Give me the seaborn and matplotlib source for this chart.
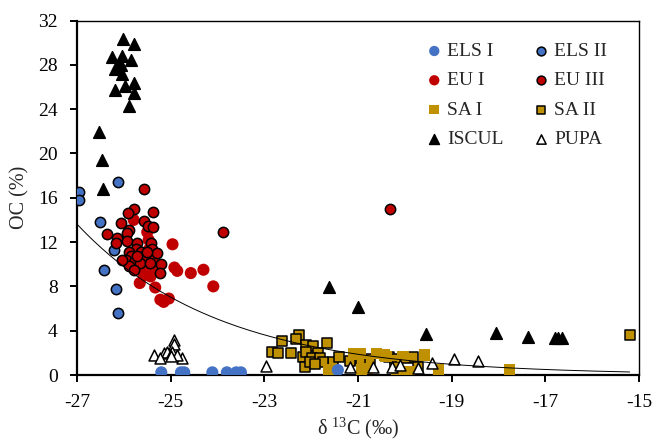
import numpy as np
import pandas as pd
import matplotlib
matplotlib.use("Agg")
import matplotlib.pyplot as plt
import seaborn as sns

# ---------------- data ----------------
els1_x = [-25.2, -24.78, -24.71, -24.11, -23.8, -23.6, -23.5, -21.43]
els1_y = [0.24, 0.24, 0.24, 0.24, 0.24, 0.24, 0.24, 0.45]

els2_x = [-26.95, -26.95, -26.12, -26.5, -26.21, -26.43, -26.16, -26.13]
els2_y = [16.5, 15.8, 17.4, 13.8, 11.3, 9.5, 7.8, 5.6]

eu1_x = [-24.96, -24.92, -24.86, -24.57, -24.3, -24.09, -25.66, -25.57, -25.43, -25.33,
         -25.22, -25.04, -25.15, -25.79, -25.5, -25.47, -25.36, -25.45, -25.64, -25.47,
         -25.3, -25.55]
eu1_y = [11.8, 9.7, 9.4, 9.2, 9.5, 8.0, 8.3, 9.0, 8.9, 7.9,
         6.8, 6.9, 6.6, 14.0, 12.9, 11.3, 10.4, 9.5, 9.8, 12.2,
         9.6, 10.3]

eu3_x = [-25.56, -25.79, -25.91, -25.38, -26.05, -25.56, -25.48, -25.37, -26.35, -26.14,
         -25.89, -25.93, -25.94, -26.16, -25.71, -25.41, -25.73, -25.4, -25.89, -25.64,
         -25.29, -25.84, -25.96, -25.57, -25.79, -25.89, -25.66, -25.45, -25.2, -25.22,
         -25.71, -25.5, -26.03, -25.79, -23.88, -20.31]
eu3_y = [16.8, 14.95, 14.6, 14.7, 13.7, 13.9, 13.45, 13.4, 12.7, 12.4,
         13.1, 12.8, 12.1, 11.9, 11.9, 11.95, 11.4, 11.4, 11.1, 11.1,
         11.0, 10.7, 10.4, 10.7, 10.2, 9.8, 10.1, 10.1, 10.0, 9.2,
         10.7, 11.1, 10.4, 9.5, 12.9, 14.95]

sa1_x = [-21.62, -20.96, -20.93, -20.61, -20.43, -20.08, -19.9, -19.58, -19.28, -20.18,
         -17.77, -20.04, -20.4, -21.1, -20.8]
sa1_y = [0.45, 1.96, 0.45, 1.96, 1.8, 0.3, 0.3, 1.8, 0.45, 0.2,
         0.5, 1.65, 1.65, 1.9, 0.6]

sa2_x = [-22.62, -22.26, -22.33, -22.84, -22.71, -22.1, -21.96, -21.67, -22.42, -22.17,
         -22.1, -21.85, -21.99, -22.13, -21.81, -21.53, -21.4, -21.18, -20.93, -20.75,
         -20.33, -20.22, -19.93, -19.83, -19.72, -20.22, -21.74, -22.03, -21.92, -15.2]
sa2_y = [3.1, 3.6, 3.25, 2.1, 2.0, 2.7, 2.6, 2.9, 1.95, 1.65,
         2.1, 1.96, 1.5, 0.75, 1.5, 1.2, 1.6, 1.3, 1.35, 1.4,
         1.65, 1.4, 1.5, 1.6, 0.7, 0.75, 1.2, 1.2, 0.96, 3.6]

iscul_x = [-26.01, -25.79, -26.26, -26.03, -25.84, -26.14, -26.18, -26.03, -26.07, -25.79,
           -25.98, -26.19, -25.79, -25.89, -26.52, -26.47, -26.45,
           -21.62, -21.01, -19.54, -18.05, -17.36, -16.79, -16.72, -16.65]
iscul_y = [30.3, 29.9, 28.7, 28.8, 28.4, 27.8, 27.6, 27.2, 28.0, 26.4,
           26.1, 25.7, 25.5, 24.3, 21.9, 19.4, 16.8,
           7.9, 6.1, 3.7, 3.76, 3.46, 3.37, 3.37, 3.37]

pupa_x = [-24.92, -24.92, -25.36, -25.15, -25.08, -24.97, -25.23, -24.76, -24.86, -25.0,
          -22.97, -21.18, -20.68, -20.27, -20.1, -19.72, -19.42, -18.94, -18.43]
pupa_y = [3.2, 2.8, 1.8, 1.96, 2.1, 2.1, 1.5, 1.5, 1.8, 1.7,
          0.8, 0.75, 0.75, 0.75, 0.9, 0.6, 1.1, 1.4, 1.24]

# exponential trend line y = A * exp(B * x)
trend_a = 0.00179
trend_b = -0.331
trend_range = [-27.0, -15.2]

x_ticks = [-27, -25, -23, -21, -19, -17, -15]
y_ticks = [0, 4, 8, 12, 16, 20, 24, 28, 32]

# ---------------- style ----------------
sns.set_style("ticks")
plt.rcParams["font.family"] = ["Liberation Serif", "DejaVu Serif"]
plt.rcParams["mathtext.fontset"] = "custom"
plt.rcParams["mathtext.rm"] = "Liberation Serif"
plt.rcParams["mathtext.default"] = "regular"

BLUE = "#4472C4"
RED = "#C00000"
GOLD = "#BF9000"

fig = plt.figure(figsize=(6.57, 4.42), dpi=100)
ax = fig.add_axes([77 / 657, 1 - 375 / 442, (639 - 77) / 657, (375 - 20.5) / 442])

series = [
    ("SA II", sa2_x, sa2_y, "s", GOLD, "black", 48),
    ("SA I", sa1_x, sa1_y, "s", GOLD, "none", 66),
    ("ELS I", els1_x, els1_y, "o", BLUE, "none", 76),
    ("ELS II", els2_x, els2_y, "o", BLUE, "black", 55),
    ("EU I", eu1_x, eu1_y, "o", RED, "none", 76),
    ("EU III", eu3_x, eu3_y, "o", RED, "black", 55),
    ("ISCUL", iscul_x, iscul_y, "^", "black", "black", 70),
    ("PUPA", pupa_x, pupa_y, "^", "white", "black", 62),
]

for i, (name, xs, ys, mk, fc, ec, s) in enumerate(series):
    df = pd.DataFrame({"x": xs, "y": ys})
    sns.scatterplot(data=df, x="x", y="y", marker=mk, color=fc, edgecolor=ec,
                    linewidth=1.1 if ec != "none" else 0, s=s, label=name,
                    ax=ax, zorder=3 + i)

tx = np.linspace(trend_range[0], trend_range[1], 200)
sns.lineplot(x=tx, y=trend_a * np.exp(trend_b * tx), color="black", lw=0.7,
             ax=ax, zorder=20)

ax.set_xlim(-27, -15)
ax.set_ylim(0, 32)
ax.set_xticks(x_ticks)
ax.set_yticks(y_ticks)
ax.set_xticklabels([str(v) for v in x_ticks])
ax.set_yticklabels([str(v) for v in y_ticks])
ax.tick_params(axis="both", direction="out", length=5, width=1.4, labelsize=14,
               pad=9, color="black", labelcolor="black")
for side in ["left", "bottom"]:
    ax.spines[side].set_linewidth(1.6)
    ax.spines[side].set_color("black")
for side in ["top", "right"]:
    ax.spines[side].set_visible(True)
    ax.spines[side].set_linewidth(1.0)
    ax.spines[side].set_color("black")

ax.set_xlabel("δ $^{13}$C (‰)", fontsize=14.5, labelpad=3)
ax.set_ylabel("OC (%)", fontsize=14.5, labelpad=6)

handles, labels = ax.get_legend_handles_labels()
order = ["ELS I", "EU I", "SA I", "ISCUL", "ELS II", "EU III", "SA II", "PUPA"]
hmap = dict(zip(labels, handles))
leg = ax.legend([hmap[k] for k in order], order, ncol=2, frameon=False,
                loc="upper left", bbox_to_anchor=(409 / 657, 1 - 25 / 442),
                bbox_transform=fig.transFigure, fontsize=14, handlelength=0.8,
                handletextpad=0.25, columnspacing=1.55, labelspacing=0.6,
                markerscale=0.85, borderpad=0.4)

fig.savefig("out.png", dpi=100)
